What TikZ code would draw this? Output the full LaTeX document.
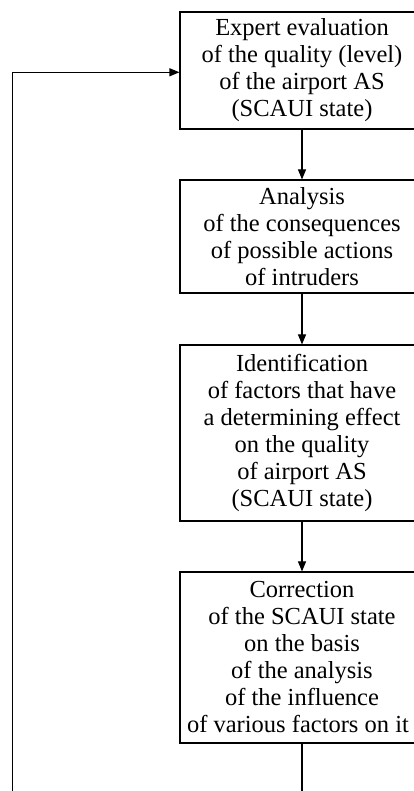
\documentclass[tikz,border=0pt]{standalone}
\usepackage{fontspec}
\setmainfont{Liberation Serif}
\usetikzlibrary{arrows.meta}
\newcommand\tightws{\spaceskip=0.25em\relax}
\begin{document}
\begin{tikzpicture}[x=1pt,y=1pt,
  box/.style={draw, line width=1.1pt, minimum width=244pt, text width=240pt, align=center, inner sep=0pt,
    font=\fontsize{24.5}{27}\selectfont, execute at begin node=\tightws},
  conn/.style={draw, line width=1.1pt},
  arr/.style={conn, -{Triangle[length=10pt,width=8pt]}}]
\useasboundingbox (0,0) rectangle (414,791);
\clip (0,0) rectangle (414,791);
\node[box, minimum height=117pt] (b1) at (302,720.5) {Expert evaluation\\of the quality (level)\\of the airport AS\\(SCAUI state)};
\node[box, minimum height=113pt] (b2) at (302,554.5) {Analysis\\of the consequences\\of possible actions\\of intruders};
\node[box, minimum height=176pt] (b3) at (302,358) {Identification\\of factors that have\\a determining effect\\on the quality\\of airport AS\\(SCAUI state)};
\node[box, minimum height=171pt] (b4) at (302,133.5) {Correction\\of the SCAUI state\\on the basis\\of the analysis\\of the influence\\\hspace*{-8pt}of various factors on it};
\coordinate (bl) at (12.3,-2);
\coordinate (tl) at (12.3,718.7);
\coordinate (bb) at (302,-2);
\draw[arr] (b1) -- (b2);
\draw[arr] (b2) -- (b3);
\draw[arr] (b3) -- (b4);
\draw[conn] (b4) -- (bb);
\draw[arr] (bl) -- (tl) -- (tl -| b1.west);
\end{tikzpicture}
\end{document}
